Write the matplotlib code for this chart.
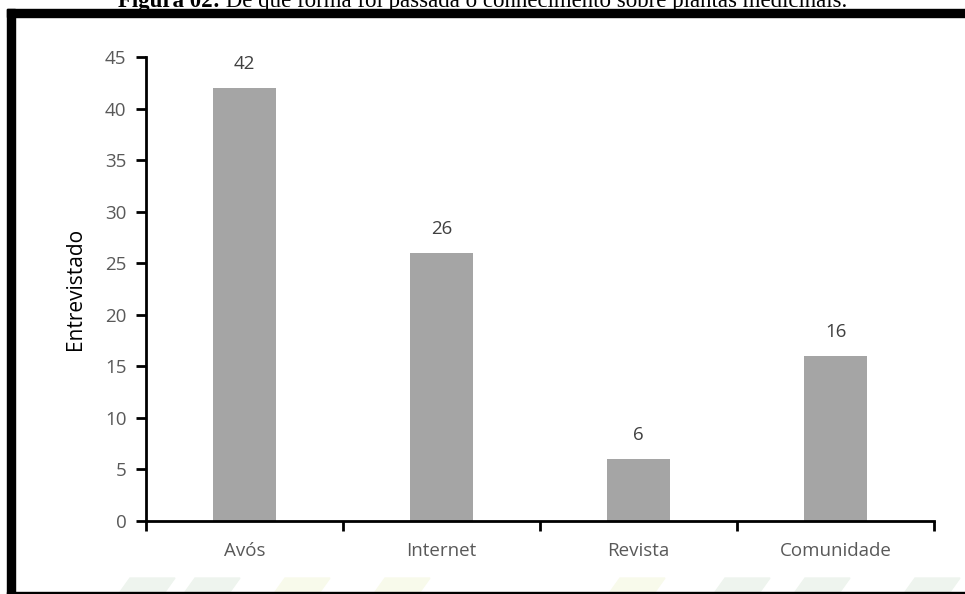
import matplotlib
matplotlib.use('Agg')
import matplotlib.pyplot as plt
from matplotlib.patches import Polygon, Rectangle

categorias = ['Avós', 'Internet', 'Revista', 'Comunidade']
entrevistados = [42, 26, 6, 16]
y_ticks = [0, 5, 10, 15, 20, 25, 30, 35, 40, 45]

W, H = 965, 594
fig = plt.figure(figsize=(W / 100, H / 100), dpi=100)

# axes in pixel coordinates: left 146, right 934, y=0 at 521, y=45 at 57
ax = fig.add_axes([146 / W, 1 - 521 / H, (934 - 146) / W, (521 - 57) / H])

x = range(len(categorias))
bars = ax.bar(x, entrevistados, width=0.32, color='#A5A5A5', zorder=2)
for bar in bars:
    h = bar.get_height()
    ax.annotate(f'{h:.0f}', (bar.get_x() + bar.get_width() / 2, h),
                xytext=(0, 11), textcoords='offset points',
                ha='center', va='bottom', fontsize=13.5, color='#404040',
                family='Open Sans')

ax.set_xlim(-0.5, len(categorias) - 0.5)
ax.set_ylim(0, 45)
ax.set_yticks(y_ticks)
ax.set_yticklabels([str(v) for v in y_ticks], family='Open Sans', fontsize=13.5, color='#595959')
ax.set_xticks(list(x))
ax.set_xticklabels(categorias, family='Open Sans', fontsize=13.5, color='#595959')
ax.tick_params(axis='x', length=0, pad=15)
ax.tick_params(axis='y', length=7, width=2, color='black', pad=7)
# category boundary ticks on the x axis
ax.set_xticks([i - 0.5 for i in range(len(categorias) + 1)], minor=True)
ax.tick_params(axis='x', which='minor', length=7, width=2, color='black')

for s in ['top', 'right']:
    ax.spines[s].set_visible(False)
for s in ['left', 'bottom']:
    ax.spines[s].set_linewidth(2)
    ax.spines[s].set_color('black')

ax.set_ylabel('Entrevistado', family='Open Sans', fontsize=15, color='black', labelpad=14)

# frame around the figure (thick left/top, thin bottom)
fig.patches.append(Rectangle((7 / W, 0), 8 / W, 1 - 9 / H, transform=fig.transFigure,
                             color='black', zorder=5))
fig.patches.append(Rectangle((7 / W, 1 - 17 / H), 1 - 7 / W, 8 / H, transform=fig.transFigure,
                             color='black', zorder=5))
fig.patches.append(Rectangle((7 / W, 0), 1 - 7 / W, 2 / H, transform=fig.transFigure,
                             color='black', zorder=5))

# faint watermark shapes at the bottom
marcas = [(120, '#EEF4EE'), (185, '#EEF4EE'), (275, '#F8FAEB'), (375, '#F8FAEB'),
          (610, '#F8FAEB'), (715, '#EEF4EE'), (795, '#EEF4EE'), (905, '#EEF4EE')]
for x0, cor in marcas:
    pts = [(x0, 2), (x0 + 45, 2), (x0 + 55, 16), (x0 + 10, 16)]
    fig.patches.append(Polygon([(px / W, py / H) for px, py in pts], closed=True,
                               transform=fig.transFigure, color=cor, zorder=0))

# title, partially cut at the top of the picture: bold prefix + normal rest
titulo_b = 'Figura 02:'
titulo_n = ' De que forma foi passada o conhecimento sobre plantas medicinais.'
fig.canvas.draw()
r = fig.canvas.get_renderer()
tb = fig.text(0, 1 - 7 / H, titulo_b, ha='left', va='baseline', fontsize=16.5,
              family='Liberation Serif', weight='bold')
tn = fig.text(0, 1 - 7 / H, titulo_n, ha='left', va='baseline', fontsize=16.5,
              family='Liberation Serif')
wb = tb.get_window_extent(r).width
wn = tn.get_window_extent(r).width
x0 = (W - wb - wn) / 2 / W
tb.set_x(x0)
tn.set_x(x0 + wb / W)

fig.savefig('out.png', dpi=100)
